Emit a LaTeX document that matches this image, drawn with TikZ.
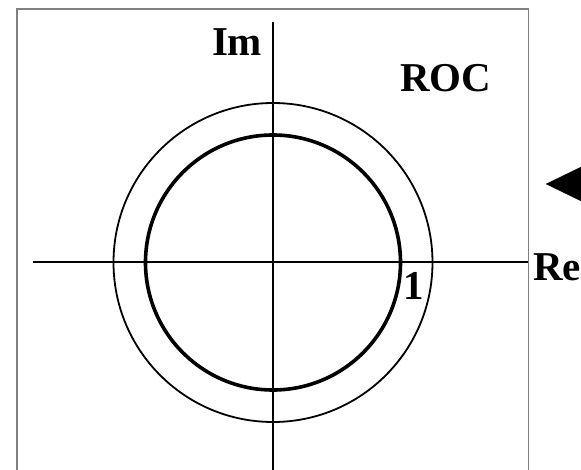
\documentclass[tikz,border=0pt]{standalone}
\usepackage{fontspec}
\setmainfont{Liberation Serif}
\begin{document}
\begin{tikzpicture}[x=1pt,y=-1pt,
  lbl/.style={anchor=base west,inner sep=0pt,outer sep=0pt,font=\fontsize{41}{41}\selectfont\bfseries},
  axisline/.style={line width=1.8pt,black},
  frameline/.style={line width=1.4pt,draw={rgb,255:red,128;green,128;blue,128}},
  thincircle/.style={line width=1.8pt,black},
  thickcircle/.style={line width=3.6pt,black}]
\useasboundingbox (0,0) rectangle (581,470);
\clip (0,0) rectangle (581,470);
% frame
\draw[frameline] (17,480) -- (17,9) -- (528.3,9) -- (528.3,480);
% axes
\coordinate (xl) at (33,262);
\coordinate (xr) at (528.3,262);
\coordinate (yt) at (273,22);
\coordinate (yb) at (273,480);
\draw[axisline] (xl) -- (xr);
\draw[axisline] (yt) -- (yb);
% circles
\coordinate (o) at (273,262.5);
\draw[thincircle] (o) circle[radius=159.5];
\draw[thickcircle] (o) circle[radius=127.5];
% labels
\node[lbl] (im) at (212,56) {Im};
\node[lbl] (roc) at (400,91.7) {ROC};
\node[lbl] (re) at (533,280.7) {Re};
\node[lbl] (one) at (403,300) {1};
% arrowhead at right edge
\fill[black] (545.7,184) -- (595,160) -- (595,208) -- cycle;
\end{tikzpicture}
\end{document}
